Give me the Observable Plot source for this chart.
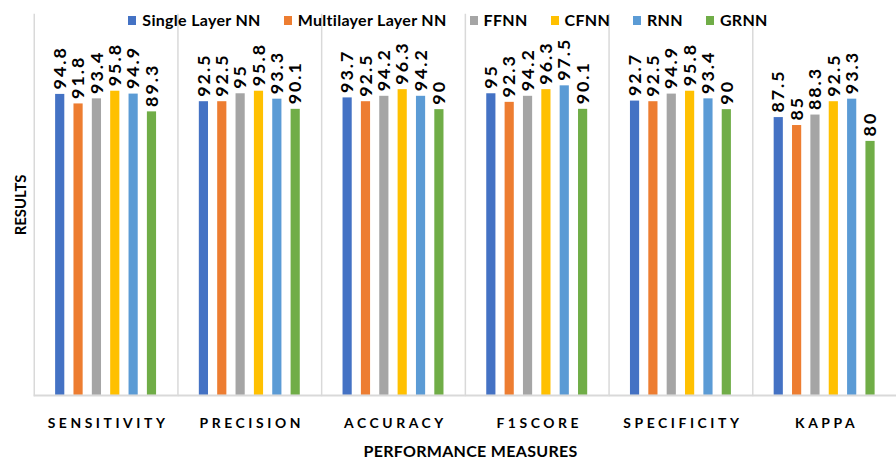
<!DOCTYPE html>
<html>
<head>
<meta charset="utf-8">
<script src="https://cdn.jsdelivr.net/npm/d3@7"></script>
<script src="https://cdn.jsdelivr.net/npm/@observablehq/plot@0.6"></script>
<style>
  html, body { margin: 0; padding: 0; background: #fff; overflow: hidden; }
  #wrap { position: relative; width: 896px; height: 461px; overflow: hidden; }
  #legend { position: absolute; top: 10px; left: 0; width: 896px; display: flex; justify-content: center; gap: 23px;
    font: bold 16px Lato, sans-serif; letter-spacing: 0.3px; line-height: 20px; color: #000; }
  #legend .item { display: flex; align-items: center; gap: 6px; white-space: nowrap; }
  #legend .sw { width: 8px; height: 9px; display: inline-block; }
  #xtitle { position: absolute; top: 441px; left: 36px; width: 869px; text-align: center;
    font: bold 16px Lato, sans-serif; letter-spacing: 0.3px; line-height: 20px; color: #000; white-space: nowrap; }
  #chart svg g[aria-label="fx-axis tick label"] text { font-weight: bold; font-size: 14px; letter-spacing: 3.6px; }
  #chart svg g[aria-label="y-axis label"] text { font-weight: bold; font-size: 15px; }
  #chart svg g[aria-label="text"] text { letter-spacing: 2px; }
</style>
</head>
<body>
<div id="wrap">
  <div id="chart"></div>
  <div id="legend"></div>
  <div id="xtitle"></div>
</div>
<script>
const categories = ["SENSITIVITY", "PRECISION", "ACCURACY", "F1SCORE", "SPECIFICITY", "KAPPA"];
const seriesNames = ["Single Layer NN", "Multilayer Layer NN", "FFNN", "CFNN", "RNN", "GRNN"];
const seriesColors = ["#4472C4", "#ED7D31", "#A5A5A5", "#FFC000", "#5B9BD5", "#70AD47"];
const singleLayerNN = [94.8, 92.5, 93.7, 95, 92.7, 87.5];
const multilayerNN = [91.8, 92.5, 92.5, 92.3, 92.5, 85];
const ffnn = [93.4, 95, 94.2, 94.2, 94.9, 88.3];
const cfnn = [95.8, 95.8, 96.3, 96.3, 95.8, 92.5];
const rnn = [94.9, 93.3, 94.2, 97.5, 93.4, 93.3];
const grnn = [89.3, 90.1, 90, 90.1, 90, 80];
const seriesValues = [singleLayerNN, multilayerNN, ffnn, cfnn, rnn, grnn];
const xTitle = "PERFORMANCE MEASURES";
const yTitle = "RESULTS";

const data = [];
categories.forEach((c, i) => {
  seriesNames.forEach((s, j) => {
    data.push({category: c, series: s, value: seriesValues[j][i]});
  });
});

const chart = Plot.plot({
  width: 903,
  height: 461,
  marginLeft: 34,
  marginRight: 0,
  marginTop: 14,
  marginBottom: 63,
  style: {fontFamily: "Lato, sans-serif", color: "#000", background: "#fff", overflow: "hidden"},
  fx: {domain: categories, padding: 0, round: false},
  x: {domain: seriesNames, paddingInner: 0.5, paddingOuter: 1.165, round: false, axis: null},
  y: {domain: [0, 120]},
  color: {domain: seriesNames, range: seriesColors},
  marks: [
    Plot.frame({anchor: "left", stroke: "#d9d9d9", strokeWidth: 1.5}),
    Plot.barY(data, {fx: "category", x: "series", y: "value", fill: "series"}),
    Plot.ruleY([0], {stroke: "#d9d9d9", strokeWidth: 2}),
    Plot.text(data, {fx: "category", x: "series", y: "value", text: d => String(d.value),
      rotate: -90, textAnchor: "start", dy: -5, fontWeight: "bold", fontSize: 18, fill: "#000"}),
    Plot.axisFx({anchor: "bottom", tickSize: 0, tickPadding: 23, dx: 2, label: null}),
    Plot.axisY({ticks: [], tickSize: 0, label: yTitle, labelAnchor: "center", labelOffset: 19, labelArrow: false, dy: -6})
  ]
});
document.getElementById("chart").appendChild(chart);
document.getElementById("xtitle").textContent = xTitle;

const legend = document.getElementById("legend");
seriesNames.forEach((s, i) => {
  const item = document.createElement("div");
  item.className = "item";
  const sw = document.createElement("span");
  sw.className = "sw";
  sw.style.background = seriesColors[i];
  const t = document.createElement("span");
  t.textContent = s;
  item.appendChild(sw);
  item.appendChild(t);
  legend.appendChild(item);
});
</script>
</body>
</html>
